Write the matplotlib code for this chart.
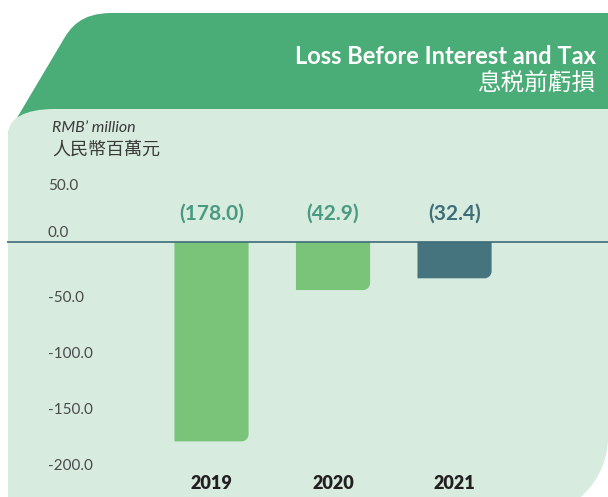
import matplotlib
matplotlib.use("Agg")
import matplotlib.pyplot as plt
from matplotlib.path import Path
from matplotlib.patches import PathPatch
from matplotlib.transforms import blended_transform_factory, ScaledTranslation

# data
years = ["2019", "2020", "2021"]
values = [-178.0, -42.9, -32.4]
value_labels = ["(178.0)", "(42.9)", "(32.4)"]
ytick_vals = [50, 0, -50, -100, -150, -200]
ytick_labels = ["50.0", "0.0", "-50.0", "-100.0", "-150.0", "-200.0"]

bar_colors = ["#79c479", "#79c479", "#45737e"]
label_colors = ["#4a9a82", "#4a9a82", "#3f6e7b"]
dark_green = "#4aac77"
panel = "#d7ebdf"

W, H = 608, 497
fig = plt.figure(figsize=(W / 100, H / 100), dpi=100)
fig.patch.set_facecolor("white")

# background shapes, in pixel units
bg = fig.add_axes([0, 0, 1, 1])
bg.set_xlim(0, W)
bg.set_ylim(H, 0)
bg.axis("off")

C3, L2 = Path.CURVE4, Path.LINETO
head = Path(
    [(W + 5, 13), (112, 13), (80, 13), (70, 28), (62, 42), (8, 133), (8, 300), (W + 5, 300), (W + 5, 13)],
    [Path.MOVETO, L2, C3, C3, C3, L2, L2, L2, Path.CLOSEPOLY])
bg.add_patch(PathPatch(head, fc=dark_green, ec="none"))

body = Path(
    [(8, 530), (8, 135), (8, 118), (25, 109), (55, 109), (W, 109), (W, 437),
     (W, 481), (572, 517), (528, 517), (8, 530), (8, 530)],
    [Path.MOVETO, L2, C3, C3, C3, L2, L2, C3, C3, C3, L2, Path.CLOSEPOLY])
bg.add_patch(PathPatch(body, fc=panel, ec="none"))

# titles
fig.text(596 / W, 1 - 57 / H, "Loss Before Interest and Tax", color="white",
         fontsize=17, fontweight="bold", family="Lato", ha="right", va="center")
fig.text(596 / W, 1 - 83 / H, "息税前虧損", color="white", fontsize=17,
         family=["Noto Sans CJK TC", "DejaVu Sans"], ha="right", va="center")
fig.text(52 / W, 1 - 128 / H, "RMB\u2019 million", color="#3a3a3a", fontsize=11.5,
         family="Lato", style="italic", ha="left", va="center")
fig.text(52 / W, 1 - 150 / H, "人民幣百萬元", color="#3a3a3a", fontsize=13,
         family=["Noto Sans CJK TC", "DejaVu Sans"], ha="left", va="center")

# chart axes
ax = fig.add_axes([7 / W, 1 - 466 / H, 601 / W, 280 / H])
ax.set_xlim(-1.683, 3.263)
ax.set_ylim(-200, 50)
ax.axis("off")

ax.axhline(0, color="#3d6c78", lw=1.2, zorder=3)

bw = 0.61
rx, ry = 7 / 121.5, 7 / 1.12
k = 0.5523
for i, v in enumerate(values):
    x0, x1 = i - bw / 2, i + bw / 2
    verts = [(x0, 0), (x0, v), (x1 - rx, v), (x1 - rx + k * rx, v), (x1, v + ry - k * ry),
             (x1, v + ry), (x1, 0), (x0, 0)]
    codes = [Path.MOVETO, L2, L2, C3, C3, C3, L2, Path.CLOSEPOLY]
    ax.add_patch(PathPatch(Path(verts, codes), fc=bar_colors[i], ec="none", zorder=2))
    ax.text(i, 25, value_labels[i], color=label_colors[i], fontsize=15, fontweight="bold",
            family="Lato", ha="center", va="center")
    ax.text(i, -216, years[i], color="#231f20", fontsize=13, fontweight="heavy",
            family="Lato", ha="center", va="center")

# y labels, left aligned; 0.0 sits just above the zero line
ylab_tr = blended_transform_factory(fig.transFigure, ax.transData)
for val, lab in zip(ytick_vals, ytick_labels):
    tr = ylab_tr
    if val == 0:
        tr = ylab_tr + ScaledTranslation(0, 9 / 100, fig.dpi_scale_trans)
    ax.text(48 / W, val, lab, transform=tr, color="#4a4a4a", fontsize=11,
            family="Lato", ha="left", va="center")

fig.savefig("out.png", dpi=100)
